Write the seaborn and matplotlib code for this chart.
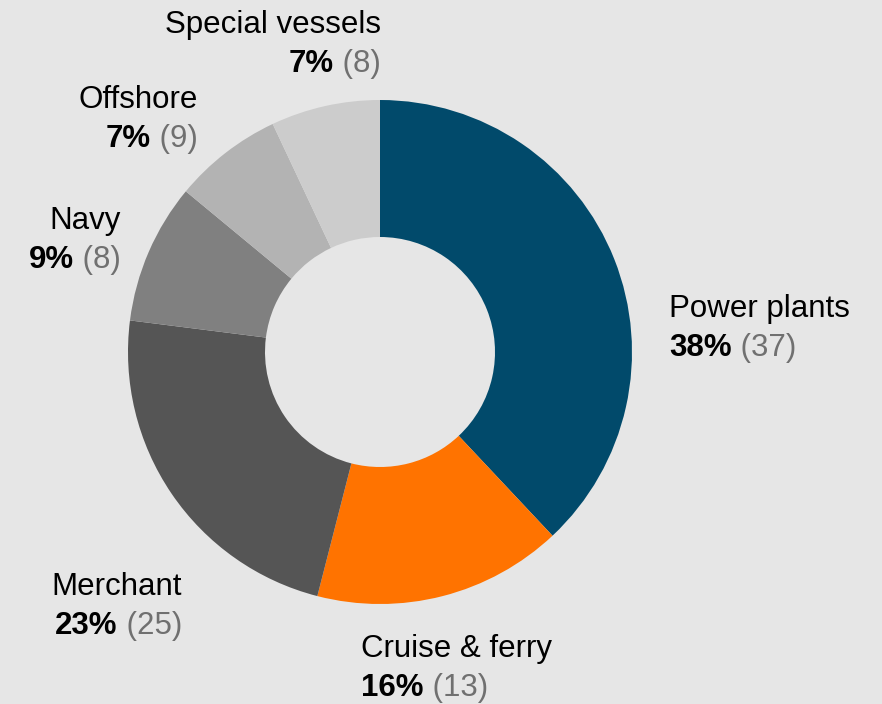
import matplotlib
matplotlib.use('Agg')
import matplotlib.pyplot as plt
import seaborn as sns

segments = ['Power plants', 'Cruise & ferry', 'Merchant', 'Navy', 'Offshore', 'Special vessels']
shares = [38, 16, 23, 9, 7, 7]
counts = [37, 13, 25, 8, 9, 8]
colors = ['#014a6b', '#ff7300', '#555555', '#808080', '#b3b3b3', '#cccccc']

# label anchors in pixels (x, baseline of first line from top), alignment
label_pos = [(669, 317, 'left'), (361, 657, 'left'), (182, 595, 'right'),
             (121, 229, 'right'), (198, 108, 'right'), (381, 33, 'right')]

bg = '#e6e6e6'
sns.set_theme(style='white', rc={'figure.facecolor': bg, 'axes.facecolor': bg})
plt.rcParams['font.family'] = ['Liberation Sans', 'DejaVu Sans']

W, H = 882, 704
fig = plt.figure(figsize=(W / 100, H / 100), dpi=100)
ax = fig.add_axes([0, 0, 1, 1])

cx, cy, R, r_in = 380, H - 352, 252, 115
ax.pie(shares, colors=colors, startangle=90, counterclock=False,
       center=(cx, cy), radius=R,
       wedgeprops=dict(width=R - r_in, linewidth=0))
ax.set_xlim(0, W)
ax.set_ylim(0, H)
ax.set_aspect('equal')
ax.axis('off')

fs = 22.5
line_gap = 39
renderer = fig.canvas.get_renderer()
for name, pct, n, (x, yb, ha) in zip(segments, shares, counts, label_pos):
    y1 = H - yb
    y2 = y1 - line_gap
    ax.text(x, y1, name, ha=ha, va='baseline', fontsize=fs, color='black')
    if ha == 'left':
        t = ax.text(x, y2, f'{pct}%', ha='left', va='baseline', fontsize=fs,
                    fontweight='bold', color='black')
        bb = t.get_window_extent(renderer)
        ax.text(bb.x1, y2, f' ({n})', ha='left', va='baseline', fontsize=fs, color='#707070')
    else:
        t = ax.text(x, y2, f' ({n})', ha='right', va='baseline', fontsize=fs, color='#707070')
        bb = t.get_window_extent(renderer)
        ax.text(bb.x0, y2, f'{pct}%', ha='right', va='baseline', fontsize=fs,
                fontweight='bold', color='black')

fig.savefig('out.png', dpi=100, facecolor=bg)
